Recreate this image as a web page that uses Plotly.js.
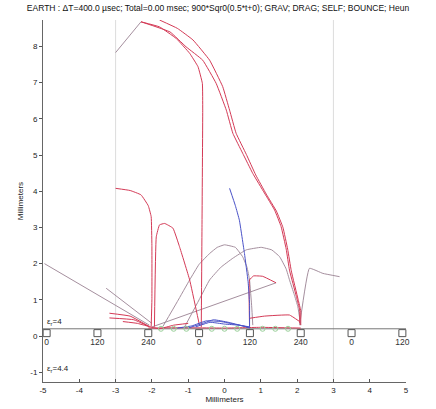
<!DOCTYPE html>
<html><head><meta charset="utf-8">
<script src="https://cdn.plot.ly/plotly-3.0.1.min.js"></script>
<style>html,body{margin:0;padding:0;background:#fff}#plot{width:436px;height:409px}</style>
</head><body><div id="plot"></div>
<script>
// ---- data (millimeters) ----
const xTicks = [-5,-4,-3,-2,-1,0,1,2,3,4,5];
const yTicks = [-1,0,1,2,3,4,5,6,7,8];
const squareX = [-4.9,-3.5,-2.1,-0.7,0.7,2.1,3.5,4.9];
const squareY = [0.08,0.08,0.08,0.08,0.08,0.08,0.08,0.08];
const squareLabels = ['0','120','240','0','120','240','0','120'];
const circleX = [-1.75,-1.4,-1.05,-0.35,0,0.35,1.05,1.4,1.75];
const circleY = [0.2,0.2,0.2,0.2,0.2,0.2,0.2,0.2,0.2];
const baseX = [-5,5];
const baseY = [0.2,0.2];

// grey (launch) segments
const g1X = [-3,-2.3];                 const g1Y = [7.83,8.68];
const g2X = [-4.96,-2.07];             const g2Y = [2.0,0.3];
const g3X = [-3.26,-2.0];              const g3Y = [1.32,0.35];
const g4X = [-2.0,1.42];               const g4Y = [0.25,1.47];
const g5X = [-1.7,-1.3,-0.96,-0.7,-0.41,-0.2,0,0.3,0.5,0.62,0.69,0.75,0.78];
const g5Y = [0.26,0.95,1.55,1.98,2.28,2.45,2.52,2.45,2.19,1.9,1.55,0.8,0.3];
const g6X = [-1.1,-0.7,-0.41,-0.1,0.23,0.6,1.01,1.3,1.52,1.7,1.79,1.92,2.02,2.1];
const g6Y = [0.25,1.0,1.55,1.9,2.15,2.38,2.45,2.38,2.19,1.85,1.55,1.15,0.81,0.3];
const g7X = [2.07,2.34,2.71,3.17];     const g7Y = [0.3,1.87,1.73,1.64];

// red trajectories
const r1X = [-2.3,-1.79,-1.33,-0.96,-0.73,-0.61,-0.6,-0.62,-0.64];
const r1Y = [8.68,8.54,8.22,7.81,7.44,6.98,6.24,3.0,0.25];
const r2X = [-2.3,-1.5,-1.06,-0.6,-0.23,0.05,0.23,0.5,0.78,1.1,1.38,1.56,1.7,1.79,1.98,2.07,2.07];
const r2Y = [8.68,8.4,7.99,7.62,6.98,6.24,5.6,5.05,4.49,3.95,3.48,3.02,2.4,1.82,1.09,0.72,0.35];
const r3X = [-1.79,-1.3,-0.87,-0.41,-0.05,0.14,0.32,0.6,0.86,1.15,1.43,1.61,1.74,1.84,2.03,2.1,2.1];
const r3Y = [8.73,8.5,8.18,7.62,6.89,6.24,5.6,5.02,4.45,3.92,3.45,3.0,2.4,1.8,1.0,0.7,0.3];
const r4X = [-3,-2.6,-2.3,-2.1,-2.02,-2.0,-2.0,-2.02];
const r4Y = [4.08,4.02,3.9,3.6,3.3,2.5,1.0,0.26];
const r5X = [-1.93,-1.88,-1.79,-1.65,-1.42,-1.24,-0.96,-0.69];
const r5Y = [0.26,2.74,3.07,3.11,2.98,2.47,1.55,0.3];
const r6X = [0.69,0.69,0.8,1.05,1.42];  const r6Y = [0.26,1.55,1.66,1.65,1.47];
const r7X = [-3.17,-2.6,-2.07];         const r7Y = [0.63,0.55,0.26];
const r8X = [-3.17,-2.5,-2.07];         const r8Y = [0.5,0.45,0.26];
const r9X = [-2.8,-2.4,-2.07];          const r9Y = [0.4,0.35,0.26];
const r10X = [0.69,1.1,1.79,2.07];      const r10Y = [0.49,0.55,0.58,0.4];
const r11X = [-2.1,-1.2,0,1.0,2.1];     const r11Y = [0.22,0.23,0.22,0.24,0.22];
const r12X = [-2.07,-1.8,-1.4,-1.0];    const r12Y = [0.26,0.2,0.3,0.35];

// blue trajectories
const b1X = [0.14,0.3,0.41,0.55,0.65,0.69,0.69];
const b1Y = [4.08,3.6,3.2,2.28,1.5,0.9,0.26];
const b2X = [-1.3,-0.9,-0.5,-0.1,0.3,0.7];  const b2Y = [0.22,0.28,0.42,0.4,0.32,0.24];
const b3X = [-1.0,-0.6,-0.3,0.1,0.5,0.7];   const b3Y = [0.22,0.35,0.45,0.38,0.28,0.22];
const b4X = [-0.8,-0.4,0,0.4,0.7];          const b4Y = [0.25,0.38,0.33,0.3,0.25];

const greys = [[g1X,g1Y],[g2X,g2Y],[g3X,g3Y],[g4X,g4Y],[g5X,g5Y],[g6X,g6Y],[g7X,g7Y]];
const reds = [[r1X,r1Y],[r2X,r2Y],[r3X,r3Y],[r4X,r4Y],[r5X,r5Y],[r6X,r6Y],[r7X,r7Y],[r8X,r8Y],[r9X,r9Y],[r10X,r10Y],[r11X,r11Y],[r12X,r12Y]];
const blues = [[b1X,b1Y],[b2X,b2Y],[b3X,b3Y],[b4X,b4Y]];

const traces = [];
traces.push({x:baseX,y:baseY,mode:'lines',line:{color:'#777',width:1},hoverinfo:'skip'});
greys.forEach(p=>traces.push({x:p[0],y:p[1],mode:'lines',line:{color:'#a58f9e',width:1,shape:'spline',smoothing:0.3}}));
reds.forEach(p=>traces.push({x:p[0],y:p[1],mode:'lines',line:{color:'#d43a56',width:1,shape:'spline',smoothing:0.3}}));
blues.forEach(p=>traces.push({x:p[0],y:p[1],mode:'lines',line:{color:'#4a52c8',width:1,shape:'spline',smoothing:0.3}}));
traces.push({x:circleX,y:circleY,mode:'markers',marker:{symbol:'circle-open',size:5,color:'#9ad09a',line:{width:1}}});
traces.push({x:squareX,y:squareY,mode:'markers+text',text:squareLabels,textposition:'bottom center',cliponaxis:false,
  textfont:{family:'Liberation Sans, Arial, sans-serif',size:8.5,color:'#333'},
  marker:{symbol:'square-open',size:7,color:'#555',line:{width:1}}});

const layout = {
  width:436, height:409,
  margin:{l:43,r:30,t:20,b:27},
  paper_bgcolor:'#fff', plot_bgcolor:'#fff',
  showlegend:false,
  font:{family:'Liberation Sans, Arial, sans-serif',size:8,color:'#222'},
  title:{text:'EARTH : ΔT=400.0 µsec; Total=0.00 msec; 900*Sqr0(0.5*t+0); GRAV; DRAG; SELF; BOUNCE; Heun',
    font:{size:8.5,color:'#111'},x:0.5,xref:'container',xanchor:'center',y:0.98,yref:'container',yanchor:'middle'},
  xaxis:{range:[-5,5],tickvals:xTicks,ticktext:xTicks.map(String),ticks:'inside',ticklen:3,tickcolor:'#555',
    showline:true,linecolor:'#666',linewidth:1,showgrid:false,zeroline:false,automargin:false,
    title:{text:'Millimeters',font:{size:8},standoff:1}},
  yaxis:{range:[-1.27,8.73],tickvals:yTicks,ticktext:yTicks.map(String),ticks:'outside',ticklen:3,tickcolor:'#555',
    showline:true,linecolor:'#666',linewidth:1,showgrid:false,zeroline:false,automargin:false,
    title:{text:'Millimeters',font:{size:8},standoff:5}},
  shapes:[
    {type:'line',xref:'x',yref:'paper',x0:-3,x1:-3,y0:0,y1:1,line:{color:'#dcdcdc',width:1},layer:'below'},
    {type:'line',xref:'x',yref:'paper',x0:3,x1:3,y0:0,y1:1,line:{color:'#dcdcdc',width:1},layer:'below'}
  ],
  annotations:[
    {x:-4.95,y:0.39,xref:'x',yref:'y',text:'ε<sub>r</sub>=4',showarrow:false,xanchor:'left',yanchor:'middle',font:{size:8}},
    {x:-4.95,y:-0.91,xref:'x',yref:'y',text:'ε<sub>r</sub>=4.4',showarrow:false,xanchor:'left',yanchor:'middle',font:{size:8}}
  ]
};
Plotly.newPlot('plot',traces,layout,{displayModeBar:false,staticPlot:true});
</script></body></html>
